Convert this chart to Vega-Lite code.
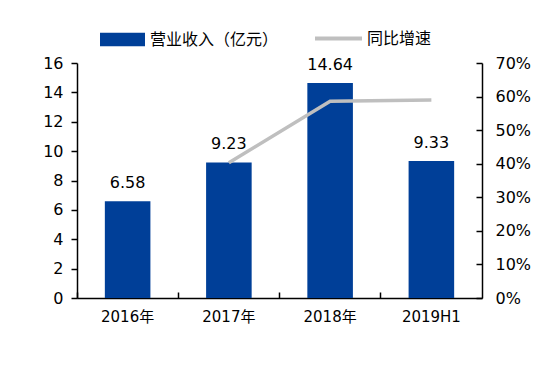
{
  "$schema": "https://vega.github.io/schema/vega-lite/v6.json",
  "autosize": "none",
  "width": 405,
  "height": 235,
  "padding": {"left": 77, "top": 63, "right": 73, "bottom": 75},
  "background": "white",
  "config": {
    "view": {"stroke": null},
    "font": "DejaVu Sans",
    "axis": {"domainColor": "black", "tickColor": "black", "domainWidth": 1.5, "tickWidth": 1.5, "labelColor": "black", "labelFontSize": 16, "grid": false, "title": null, "labelFont": "DejaVu Sans, Noto Sans CJK SC"},
    "legend": {"labelFont": "Noto Sans CJK SC", "labelFontSize": 16, "labelColor": "black", "padding": 0, "offset": 0}
  },
  "data": {"values": [
    {"cat": "2016年", "rev": 6.58, "g": null},
    {"cat": "2017年", "rev": 9.23, "g": 0.403},
    {"cat": "2018年", "rev": 14.64, "g": 0.586},
    {"cat": "2019H1", "rev": 9.33, "g": 0.59}
  ]},
  "encoding": {
    "x": {"field": "cat", "type": "nominal", "sort": null,
      "scale": {"paddingInner": 0, "paddingOuter": 0},
      "axis": {"labelAngle": 0, "bandPosition": 0, "tickSize": -6, "labelPadding": 17, "labelFontSize": 15}}
  },
  "layer": [
    {
      "mark": {"type": "bar", "width": {"band": 0.45}},
      "encoding": {
        "y": {"field": "rev", "type": "quantitative", "scale": {"domain": [0, 16]},
          "axis": {"values": [0,2,4,6,8,10,12,14,16], "tickSize": 6, "labelPadding": 8}},
        "color": {"datum": "营业收入（亿元）", "type": "nominal", "scale": {"range": ["#003f98"]},
          "legend": {"orient": "none", "legendX": 23, "legendY": -46, "symbolType": "M-1,-0.3H1V0.3H-1Z", "symbolSize": 2025, "symbolStrokeWidth": 0, "symbolOpacity": 1, "labelOffset": 5, "title": null}}
      }
    },
    {
      "mark": {"type": "text", "dy": -10, "fontSize": 16, "color": "black", "baseline": "bottom"},
      "encoding": {
        "y": {"field": "rev", "type": "quantitative", "scale": {"domain": [0, 16]}, "axis": null},
        "text": {"field": "rev", "type": "quantitative", "format": ".2f"}
      }
    },
    {
      "mark": {"type": "line", "strokeWidth": 3.5},
      "encoding": {
        "y": {"field": "g", "type": "quantitative", "scale": {"domain": [0, 0.7]},
          "axis": {"orient": "right", "values": [0,0.1,0.2,0.3,0.4,0.5,0.6,0.7], "format": ".0%", "tickSize": -6, "labelPadding": 19}},
        "stroke": {"datum": "同比增速", "type": "nominal", "scale": {"range": ["#bfbfbf"]},
          "legend": {"orient": "none", "legendX": 236, "legendY": -50, "symbolType": "stroke", "symbolSize": 2209, "symbolStrokeWidth": 4, "labelOffset": 3, "title": null}}
      }
    }
  ],
  "resolve": {"scale": {"y": "independent"}}
}
